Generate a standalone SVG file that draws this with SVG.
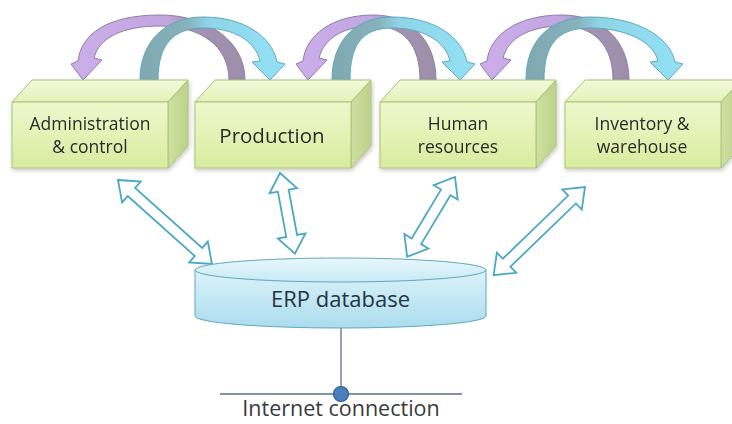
<svg xmlns="http://www.w3.org/2000/svg" width="732" height="424" viewBox="0 0 732 424">
  <defs>
    <linearGradient id="gFront" x1="0" y1="0" x2="0" y2="1">
      <stop offset="0" stop-color="#eef8cd"/>
      <stop offset="1" stop-color="#d9ec9f"/>
    </linearGradient>
    <linearGradient id="gTop" x1="0" y1="0" x2="0" y2="1">
      <stop offset="0" stop-color="#f3fadb"/>
      <stop offset="1" stop-color="#e4f2b9"/>
    </linearGradient>
    <linearGradient id="gSide" x1="0" y1="0" x2="1" y2="0">
      <stop offset="0" stop-color="#cfe0a0"/>
      <stop offset="1" stop-color="#bcd18a"/>
    </linearGradient>
    <linearGradient id="gDbBody" x1="0" y1="0" x2="0" y2="1">
      <stop offset="0" stop-color="#dcf3fa"/>
      <stop offset="1" stop-color="#abdcee"/>
    </linearGradient>
    <linearGradient id="gDbTop" x1="0" y1="0" x2="0" y2="1">
      <stop offset="0" stop-color="#e8f7fc"/>
      <stop offset="1" stop-color="#c8eaf5"/>
    </linearGradient>
    <!-- curved arrow shading: light front, darker inner leg -->
    <linearGradient id="gPurple" x1="0" y1="0" x2="1" y2="0">
      <stop offset="0" stop-color="#cbaeea"/>
      <stop offset="0.55" stop-color="#c1a6e0"/>
      <stop offset="0.7" stop-color="#a594b6"/>
      <stop offset="1" stop-color="#9c8ea8"/>
    </linearGradient>
    <linearGradient id="gBlue" x1="0" y1="0" x2="1" y2="0">
      <stop offset="0" stop-color="#80a8b1"/>
      <stop offset="0.33" stop-color="#87b3bc"/>
      <stop offset="0.47" stop-color="#8fd5e8"/>
      <stop offset="1" stop-color="#93e1f5"/>
    </linearGradient>
    <filter id="soft" x="-10%" y="-10%" width="130%" height="140%">
      <feDropShadow dx="1" dy="2" stdDeviation="2" flood-color="#000" flood-opacity="0.22"/>
    </filter>
  </defs>
  <style>
    .front { fill: url(#gFront); stroke: #aac47a; stroke-width: 1; }
    .top { fill: url(#gTop); stroke: #aac47a; stroke-width: 1; }
    .side { fill: url(#gSide); stroke: #aac47a; stroke-width: 1; }
    .label { font-family: "Open Sans", "Liberation Sans", sans-serif; font-size: 17.5px; fill: #2b2b2b; text-anchor: middle; }
    .arcP { fill: url(#gPurple); stroke: #8f7ca8; stroke-width: 1; }
    .arcB { fill: url(#gBlue); stroke: #5aa9bf; stroke-width: 1; }
    .dbl { fill: #ffffff; stroke: #4aa8c4; stroke-width: 1.8; stroke-linejoin: miter; }
    .net { stroke: #5a6f86; stroke-width: 1.3; fill: none; }
  </style>
  <rect width="732" height="424" fill="#ffffff"/>

  <g id="connectors">
    <!-- curved arrows between neighbouring departments -->
    <path class="arcP" d="M245 80 C245 40 206 15 160 15 C106 15 81 35 78 61 L71 64 L83 80 L102 60 L94 58 C99 38 122 26 160 26 C199 26 229 45 229 80 Z"/>
    <path class="arcB" d="M140 80 C140 40 167 17 203 17 C245 17 272 37 277 62 L285 64 L270 80 L252 62 L260 61 C255 40 233 28 203 28 C173 28 158 45 158 80 Z"/>
    <path class="arcP" d="M436 80 C436 40 410 15 374 15 C332 15 306 35 303 61 L296 64 L308 80 L327 60 L319 58 C324 38 344 26 374 26 C404 26 420 45 420 80 Z"/>
    <path class="arcB" d="M332 80 C332 40 356 17 392 17 C434 17 462 37 467 62 L475 64 L460 80 L442 62 L450 61 C445 40 422 28 392 28 C362 28 350 45 350 80 Z"/>
    <path class="arcP" d="M629 80 C629 40 601 15 562 15 C517 15 490 35 487 61 L480 64 L492 80 L511 60 L503 58 C508 38 530 26 562 26 C594 26 613 45 613 80 Z"/>
    <path class="arcB" d="M526 80 C526 40 550 17 590 17 C637 17 670 37 675 62 L683 64 L668 80 L650 62 L658 61 C653 40 623 28 590 28 C557 28 544 45 544 80 Z"/>

    <!-- two-way links to the database -->
    <path class="dbl" transform="translate(118 180) rotate(41.8)" d="M0 0 L18 -14 L18 -5.5 L108 -5.5 L108 -14 L126 0 L108 14 L108 5.5 L18 5.5 L18 14 Z"/>
    <path class="dbl" transform="translate(280 173) rotate(79.5)" d="M0 0 L18 -14 L18 -5.5 L64 -5.5 L64 -14 L82 0 L64 14 L64 5.5 L18 5.5 L18 14 Z"/>
    <path class="dbl" transform="translate(455 177) rotate(121)" d="M0 0 L18 -14 L18 -5.5 L75 -5.5 L75 -14 L93 0 L75 14 L75 5.5 L18 5.5 L18 14 Z"/>
    <path class="dbl" transform="translate(585 187) rotate(136)" d="M0 0 L18 -14 L18 -5.5 L109 -5.5 L109 -14 L127 0 L109 14 L109 5.5 L18 5.5 L18 14 Z"/>

    <!-- database uplink -->
    <line class="net" x1="341" y1="328" x2="341" y2="394"/>
    <line class="net" x1="220" y1="394" x2="462" y2="394"/>
  </g>

  <g id="box-admin" filter="url(#soft)">
    <polygon class="top" points="12,102 32,80 188,80 168,102"/>
    <polygon class="side" points="168,102 188,80 188,146 168,168"/>
    <rect class="front" x="12" y="102" width="156" height="66"/>
    <text class="label" x="90" y="130">Administration</text>
    <text class="label" x="90" y="153">&amp; control</text>
  </g>

  <g id="box-production" filter="url(#soft)">
    <polygon class="top" points="195,102 215,80 371,80 351,102"/>
    <polygon class="side" points="351,102 371,80 371,146 351,168"/>
    <rect class="front" x="195" y="102" width="156" height="66"/>
    <text class="label" x="272" y="143" style="font-size:20.5px">Production</text>
  </g>

  <g id="box-hr" filter="url(#soft)">
    <polygon class="top" points="380,102 400,80 556,80 536,102"/>
    <polygon class="side" points="536,102 556,80 556,146 536,168"/>
    <rect class="front" x="380" y="102" width="156" height="66"/>
    <text class="label" x="458" y="130">Human</text>
    <text class="label" x="458" y="153">resources</text>
  </g>

  <g id="box-inventory" filter="url(#soft)">
    <polygon class="top" points="565,102 585,80 741,80 721,102"/>
    <polygon class="side" points="721,102 741,80 741,146 721,168"/>
    <rect class="front" x="565" y="102" width="156" height="66"/>
    <text class="label" x="642" y="130">Inventory &amp;</text>
    <text class="label" x="642" y="153">warehouse</text>
  </g>

  <g id="db">
    <path d="M195 270 V316 A145.5 12 0 0 0 486 316 V270 Z" fill="url(#gDbBody)" stroke="#5fa7be" stroke-width="1"/>
    <ellipse cx="340.5" cy="270" rx="145.5" ry="12" fill="url(#gDbTop)" stroke="#5fa7be" stroke-width="1"/>
    <text x="340.5" y="306.5" text-anchor="middle" font-family="'Open Sans', 'Liberation Sans', sans-serif" font-size="22" fill="#26353f">ERP database</text>
  </g>

  <g id="internet">
    <circle cx="341" cy="394" r="7.5" fill="#4a7ebd" stroke="#2f5b8c" stroke-width="1.2"/>
    <text x="341" y="416" text-anchor="middle" font-family="'Open Sans', 'Liberation Sans', sans-serif" font-size="21.5" fill="#3a3a3a">Internet connection</text>
  </g>
</svg>
